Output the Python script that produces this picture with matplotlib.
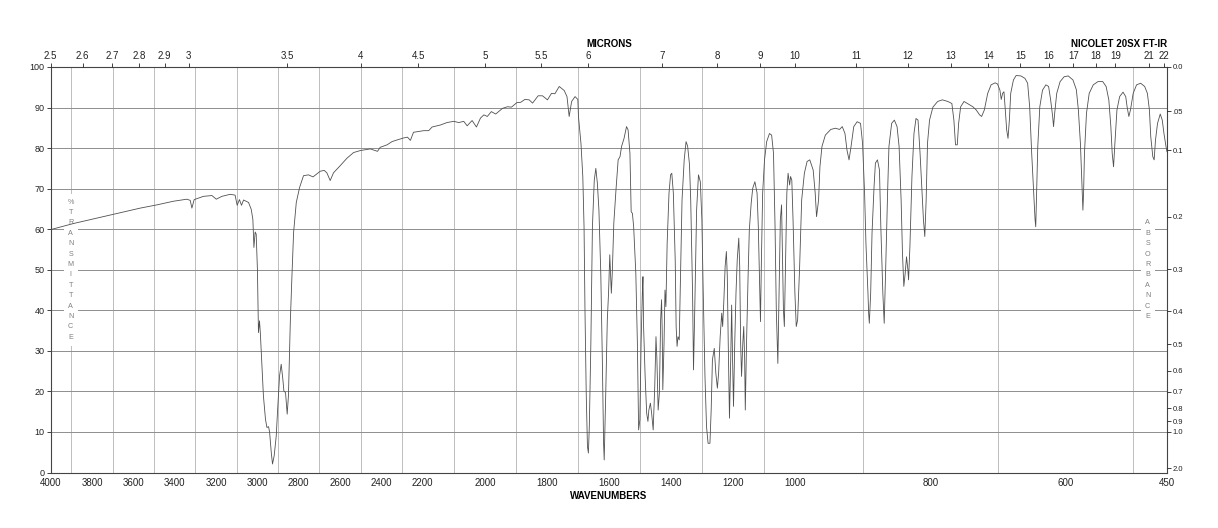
import numpy as np
import matplotlib.pyplot as plt
from matplotlib.patches import Rectangle

plt.rcParams['font.family'] = ['Liberation Sans', 'DejaVu Sans']

# spectrum: wavenumber (cm-1) and %T
wavenumber = [
    4000, 3890, 3728, 3567, 3486, 3406, 3341, 3325, 3317, 3306, 3261, 3220, 3199, 3172,
    3132, 3108, 3098, 3087, 3077,
    3067, 3043, 3030, 3022, 3017, 3011, 3006, 3000, 2995, 2990, 2986, 2978, 2971, 2961,
    2954, 2946, 2941, 2933, 2927, 2919, 2909, 2903, 2893, 2885, 2877, 2872, 2864, 2856,
    2850, 2841, 2833, 2825, 2812, 2796,
    2777, 2753, 2731, 2696, 2677, 2664, 2648, 2632, 2599, 2567, 2535, 2502, 2454, 2419,
    2406, 2373, 2349, 2325, 2293, 2274, 2260, 2245, 2197, 2181, 2170, 2143, 2122, 2100,
    2084, 2068, 2057, 2041, 2027, 2014, 2003, 1992, 1979, 1965, 1943, 1927, 1914, 1897,
    1884, 1871, 1857, 1846, 1828, 1814, 1798, 1785, 1774, 1760, 1744, 1735, 1728, 1720,
    1709, 1700,
    1698, 1690, 1684, 1680, 1677, 1673, 1669, 1666, 1663, 1658, 1653, 1647, 1642, 1637,
    1632, 1626, 1621, 1617, 1615, 1610, 1605, 1601, 1597, 1592, 1589, 1584, 1577, 1570,
    1564, 1559, 1551, 1543, 1538, 1532, 1528, 1524, 1520, 1513, 1508, 1504, 1500, 1496,
    1492, 1490, 1488, 1483, 1478, 1474, 1471, 1466, 1462, 1457, 1452, 1448, 1445, 1441,
    1437, 1433, 1430, 1428, 1426, 1422, 1419, 1416, 1412, 1406, 1401, 1397, 1392, 1386,
    1383, 1380, 1377, 1373, 1369, 1364, 1357, 1351, 1346, 1340, 1336, 1330, 1327, 1323,
    1317, 1311, 1305, 1300,
    1296, 1290, 1285, 1280, 1274, 1270, 1266, 1260, 1255, 1250, 1246, 1241, 1236, 1233,
    1229, 1225, 1221, 1218, 1215, 1211, 1207, 1204, 1201, 1198, 1194, 1190, 1186, 1181,
    1178, 1175, 1172, 1168, 1165, 1162, 1160, 1156, 1151, 1147, 1141, 1136, 1129, 1122,
    1118, 1113, 1111, 1108, 1104, 1098, 1091, 1082, 1075, 1069, 1064, 1060, 1055, 1051,
    1047, 1043, 1040, 1037, 1034, 1030, 1026, 1022, 1017, 1014, 1010, 1006, 1000, 998,
    996, 993, 990, 986, 982, 978,
    973, 970, 968, 965, 963, 960, 955, 947, 940, 934, 930, 926, 923, 920, 917, 913, 908,
    903, 900, 897, 895, 892, 891, 890, 888, 886, 883, 881, 878, 875, 873, 870, 868, 866,
    863, 861, 857, 853, 849, 846, 843, 841, 839, 837, 835, 833, 832, 830, 827, 824, 821,
    818, 815, 812, 810, 808, 806, 804, 801, 796, 789, 782, 774, 768,
    765, 762.6, 760, 758, 755, 750, 745, 737, 732, 727, 724, 720, 715, 710, 704, 700.5,
    697, 695, 693, 691, 689, 687, 685, 683, 681, 677, 673, 666, 660, 656, 653, 650, 647,
    645, 644, 643, 641, 638, 634, 629, 625, 622, 619, 617.7, 616, 613, 608, 602, 596,
    589, 584, 581, 578, 576, 574.7, 574.3, 573.3, 572, 569, 565, 559, 552, 545, 540, 536,
    533, 531, 529, 527, 524, 520, 515, 511, 509, 506.4, 504, 500, 495, 489, 483, 479, 476,
    474, 471, 469, 467, 464, 460, 457, 454.5, 451.5, 450,
]
transmittance = [
    59.9, 61.4, 63.3, 65.2, 66.0, 66.9, 67.4, 67.1, 65.2, 67.3, 68.1, 68.3, 67.4, 68.1,
    68.6, 68.4, 65.9, 67.3, 65.9,
    67.2, 66.6, 64.9, 62.4, 55.5, 59.3, 58.8, 50.1, 34.5, 37.4, 34.5, 26.3, 18.9, 13.1,
    11.1, 11.3, 9.9, 4.9, 2.1, 4.1, 9.0, 14.8, 23.8, 26.7, 23.0, 20.1, 19.7, 14.4,
    18.9, 37.0, 48.5, 59.2, 66.6, 70.3,
    73.2, 73.4, 72.9, 74.3, 74.5, 73.9, 72.0, 73.9, 75.7, 77.5, 78.9, 79.4, 79.8, 79.2,
    80.2, 80.8, 81.6, 82.0, 82.5, 82.7, 81.9, 83.9, 84.3, 84.3, 85.2, 85.7, 86.3, 86.6,
    86.3, 86.6, 85.5, 86.8, 85.2, 87.4, 88.2, 87.8, 89.0, 88.4, 89.8, 90.2, 90.1, 91.2,
    91.3, 92.0, 91.9, 91.1, 92.9, 92.9, 91.9, 93.5, 93.4, 95.2, 94.2, 92.7, 87.8, 91.5,
    92.7, 92.0,
    87.8, 81.2, 73.0, 60.6, 40.1, 19.6, 6.4, 4.8, 11.3, 31.9, 60.6, 72.1, 75.0, 71.3,
    64.7, 49.1, 27.8, 7.2, 3.1, 19.6, 37.6, 44.2, 53.7, 44.2, 49.1, 61.5, 69.7, 77.1,
    77.9, 80.4, 82.4, 85.3, 84.5, 78.7, 64.3, 63.9, 60.6, 49.1, 31.9, 10.5, 13.0, 31.9,
    44.2, 48.3, 36.0, 23.7, 14.6, 12.6, 15.4, 17.1, 14.6, 10.5, 21.2, 33.5, 27.8, 15.4,
    19.6, 37.6, 42.6, 35.2, 20.4, 31.9, 45.0, 40.9, 56.5, 68.9, 73.4, 73.8, 68.9, 52.4,
    36.0, 31.1, 33.5, 32.7, 48.3, 67.2, 77.1, 81.6, 80.5, 76.0, 67.2, 44.2, 25.3, 40.1,
    64.7, 73.4, 71.7, 62.3,
    45.8, 23.7, 11.3, 7.2, 7.2, 15.4, 27.8, 30.6, 24.5, 20.8, 24.5, 33.5, 39.3, 36.0,
    42.6, 50.8, 54.5, 48.3, 31.9, 13.4, 27.8, 41.3, 27.8, 16.3, 31.9, 44.2, 52.4, 57.8,
    50.8, 31.9, 23.7, 31.9, 36.0, 27.8, 15.4, 31.9, 48.3, 59.8, 66.4, 70.1, 71.7, 68.9,
    60.6, 44.2, 37.2, 52.4, 68.9, 77.1, 81.6, 83.6, 83.2, 78.7, 60.6, 40.1, 26.9, 44.2,
    62.3, 66.0, 52.4, 40.1, 36.0, 52.4, 68.9, 73.8, 70.9, 73.0, 72.1, 62.3, 44.2, 36.0,
    37.6, 50.8, 67.2, 73.8, 76.7, 77.1,
    74.6, 68.9, 63.1, 67.2, 75.4, 80.4, 83.2, 84.6, 84.9, 84.6, 85.3, 83.6, 79.5, 77.1,
    80.4, 85.3, 86.5, 86.1, 81.2, 68.9, 56.5, 44.2, 39.3, 36.8, 44.2, 59.0, 70.5, 76.3,
    77.1, 74.6, 60.6, 44.2, 36.8, 49.1, 68.9, 80.4, 86.1, 86.9, 85.3, 80.4, 67.2, 54.1,
    45.9, 49.1, 53.2, 50.0, 47.5, 55.7, 73.0, 83.6, 87.3, 86.9, 78.7, 68.9, 62.3, 58.2,
    67.2, 81.2, 86.9, 90.1, 91.5, 91.9, 91.5, 91.0,
    86.9, 80.8, 80.8, 86.1, 90.2, 91.5, 91.0, 90.2, 89.4, 88.2, 87.8, 89.4, 93.5, 95.6,
    96.1, 95.8, 94.3, 92.0, 93.5, 93.9, 89.4, 84.5, 82.4, 86.9, 93.5, 96.8, 97.9, 97.8,
    97.2, 96.0, 90.2, 78.7, 68.9, 62.3, 60.6, 67.2, 80.4, 90.2, 94.3, 95.6, 95.2, 91.9,
    87.8, 85.3, 88.6, 93.5, 96.4, 97.6, 97.8,
    96.8, 94.4, 89.4, 81.2, 72.1, 66.4, 64.7, 68.9, 78.7, 88.6, 93.5, 95.6, 96.4, 96.4,
    95.2, 91.9, 85.3, 78.7, 75.4, 81.2, 89.4, 92.7, 93.8, 92.7, 90.2, 87.8, 89.4, 93.5,
    95.6, 96.0, 95.2, 93.5, 89.4, 82.8, 77.9, 77.1, 82.0, 86.1, 88.4, 86.9, 83.6, 80.4,
    79.1,
]

wn_labels = [4000, 3800, 3600, 3400, 3200, 3000, 2800, 2600, 2400, 2200, 2000, 1800,
             1600, 1400, 1200, 1000, 800, 600, 450]
wn_grid = list(range(500, 4000, 100))
microns = [2.5, 2.6, 2.7, 2.8, 2.9, 3, 3.5, 4, 4.5, 5, 5.5, 6, 7, 8, 9, 10, 11, 12,
           13, 14, 15, 16, 17, 18, 19, 21, 22]
absorbance = [0.0, 0.05, 0.1, 0.2, 0.3, 0.4, 0.5, 0.6, 0.7, 0.8, 0.9, 1.0, 2.0]
absorbance_labels = ['0.0', '.05', '0.1', '0.2', '0.3', '0.4', '0.5', '0.6', '0.7',
                     '0.8', '0.9', '1.0', '2.0']

# chart paper: 4000-2200, 2200-1000 and 1000-450 each take a third of the width
breaks = [450, 1000, 2200, 4000]
def fwd(x):
    return np.interp(x, breaks, [0, 1, 2, 3])
def inv(u):
    return np.interp(u, [0, 1, 2, 3], breaks)

W, H = 1218, 528
fig = plt.figure(figsize=(W / 100, H / 100), dpi=100)
x0, x1, y0, y1 = 50.7, 1167, 67, 472.5
ax = fig.add_axes([x0 / W, 1 - y1 / H, (x1 - x0) / W, (y1 - y0) / H])

ax.set_xscale('function', functions=(fwd, inv))
ax.set_xlim(4000, 450)
ax.set_ylim(0, 100)
ax.set_axisbelow(True)

ax.plot(wavenumber, transmittance, color='#505050', lw=0.6, zorder=3)

ax.set_xticks(wn_labels)
ax.set_xticklabels([str(v) for v in wn_labels])
ax.set_xticks(wn_grid, minor=True)
ax.set_yticks(range(0, 101, 10))
ax.xaxis.grid(True, which='minor', color='#bdbdbd', lw=0.7)
ax.yaxis.grid(True, which='major', color='#8e8e8e', lw=0.7)
ax.tick_params(axis='x', which='both', length=0, pad=4, labelsize=7, colors='#222222')
ax.tick_params(axis='y', length=3, width=0.6, pad=1.5, labelsize=6.5, colors='#222222')

for sp in ax.spines.values():
    sp.set_color('#444444')
    sp.set_linewidth(0.8)

# micron scale on top
axt = ax.twiny()
axt.set_xscale('function', functions=(fwd, inv))
axt.set_xlim(4000, 450)
axt.set_xticks([1e4 / m for m in microns])
axt.set_xticklabels([('%g' % m) for m in microns])
axt.xaxis.set_minor_locator(plt.NullLocator())
axt.tick_params(axis='x', length=3, width=0.6, pad=1, labelsize=7, colors='#222222')
for sp in axt.spines.values():
    sp.set_visible(False)

# absorbance scale on the right
axr = ax.twinx()
axr.set_ylim(0, 100)
axr.set_yticks([100 * 10 ** (-a) for a in absorbance])
axr.set_yticklabels(absorbance_labels)
axr.tick_params(axis='y', length=3, width=0.6, pad=1, labelsize=5.5, colors='#222222')
for sp in axr.spines.values():
    sp.set_visible(False)

# stacked side captions
step = 10.4 / (y1 - y0)
def column(xf, word):
    n = len(word)
    ax.add_patch(Rectangle((xf - 7 / (x1 - x0), 0.5 - (n / 2) * step - 3 / (y1 - y0)),
                           14 / (x1 - x0), n * step + 6 / (y1 - y0),
                           transform=ax.transAxes, facecolor='white', edgecolor='none',
                           zorder=1))
    for i, ch in enumerate(word):
        ax.text(xf, 0.5 + (n - 1) / 2 * step - i * step, ch, transform=ax.transAxes,
                ha='center', va='center', fontsize=5.2, color='#808080', zorder=2)

column((70.7 - x0) / (x1 - x0), '%TRANSMITTANCE')
column((1147.7 - x0) / (x1 - x0), 'ABSORBANCE')

fig.text((x0 + x1) / 2 / W, 1 - 44 / H, 'MICRONS', ha='center', va='center',
         fontsize=7, fontweight='bold')
fig.text(x1 / W, 1 - 44 / H, 'NICOLET 20SX FT-IR', ha='right', va='center',
         fontsize=7, fontweight='bold')
fig.text((x0 + x1) / 2 / W, 1 - 496 / H, 'WAVENUMBERS', ha='center', va='center',
         fontsize=7, fontweight='bold')

fig.savefig('out.png', dpi=100, facecolor='white')
